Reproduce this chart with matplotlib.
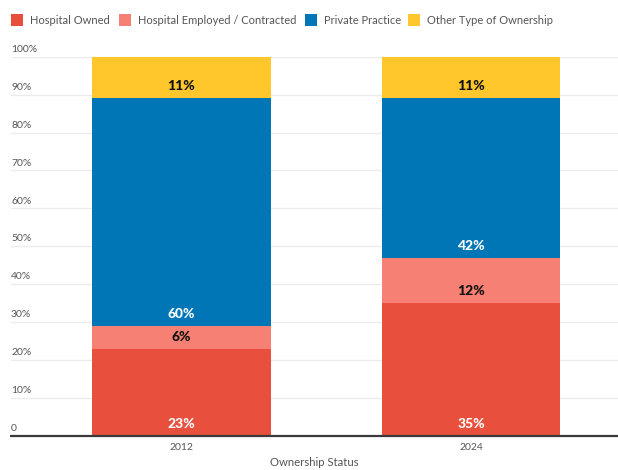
import matplotlib
matplotlib.use("Agg")
import matplotlib.pyplot as plt
from matplotlib.patches import Rectangle
from matplotlib.transforms import blended_transform_factory
import numpy as np

plt.rcParams['font.family'] = ['Lato', 'DejaVu Sans']

years = ["2012", "2024"]
series = ["Hospital Owned", "Hospital Employed / Contracted",
          "Private Practice", "Other Type of Ownership"]
hospital_owned = [23, 35]
hospital_employed = [6, 12]
private_practice = [60, 42]
other_ownership = [11, 11]
values = [hospital_owned, hospital_employed, private_practice, other_ownership]
y_ticks = [0, 10, 20, 30, 40, 50, 60, 70, 80, 90, 100]
y_tick_labels = ["0"] + [f"{t}%" for t in y_ticks[1:]]

colors = ["#E84F3D", "#F58073", "#0076B6", "#FFC72C"]
label_colors = ["white", "#111111", "white", "#111111"]

W, H = 618, 470
fig = plt.figure(figsize=(W / 100, H / 100), dpi=100)
ax = fig.add_axes([11 / W, (H - 435.7) / H, (W - 11) / W, (435.7 - 56.7) / H])

x = np.arange(len(years))
bottoms = np.zeros(len(years))
for vals, col, lcol in zip(values, colors, label_colors):
    vals = np.array(vals, dtype=float)
    ax.bar(x, vals, width=0.618, bottom=bottoms, color=col, zorder=3, linewidth=0)
    for xi, b, v in zip(x, bottoms, vals):
        ax.annotate(f"{int(v)}%", (xi, b), xytext=(0, 8.6), textcoords="offset points",
                    ha="center", va="center", color=lcol, fontsize=10,
                    fontweight="black", zorder=4)
    bottoms += vals

ax.set_xlim(-0.589, 1.508)
ax.set_ylim(0, 100)

# light horizontal grid with labels sitting on top of each line
trans = blended_transform_factory(ax.transAxes, ax.transData)
for t, lab in zip(y_ticks, y_tick_labels):
    if t > 0:
        ax.axhline(t, color="#ececec", linewidth=1.0, zorder=1)
    ax.annotate(lab, (0, t), xycoords=trans, xytext=(0, 2.0), textcoords="offset points",
                ha="left", va="bottom", fontsize=7.5, color="#555555")
ax.plot([-0.002, 1], [0, 0], transform=trans, color="#3a3a3a", linewidth=1.6,
        zorder=5, clip_on=False, solid_capstyle="butt")

ax.set_yticks([])
ax.set_xticks(x)
ax.set_xticklabels(years, fontsize=7.5, color="#555555")
ax.tick_params(axis="x", length=0, pad=5)
ax.set_xlabel("Ownership Status", fontsize=8.2, color="#555555", labelpad=4)
for s in ax.spines.values():
    s.set_visible(False)

# legend row across the top: colour square followed by its name
legend_x = [11, 119, 304.5, 408]
sq = 12
for lx, col, name in zip(legend_x, colors, series):
    fig.patches.append(Rectangle((lx / W, 1 - 26.3 / H), sq / W, sq / H,
                                 transform=fig.transFigure, facecolor=col,
                                 edgecolor="none"))
    fig.text((lx + sq + 7) / W, 1 - 20.5 / H, name, ha="left", va="center",
             fontsize=8.0, color="#555555")

fig.savefig("out.png", dpi=100)
